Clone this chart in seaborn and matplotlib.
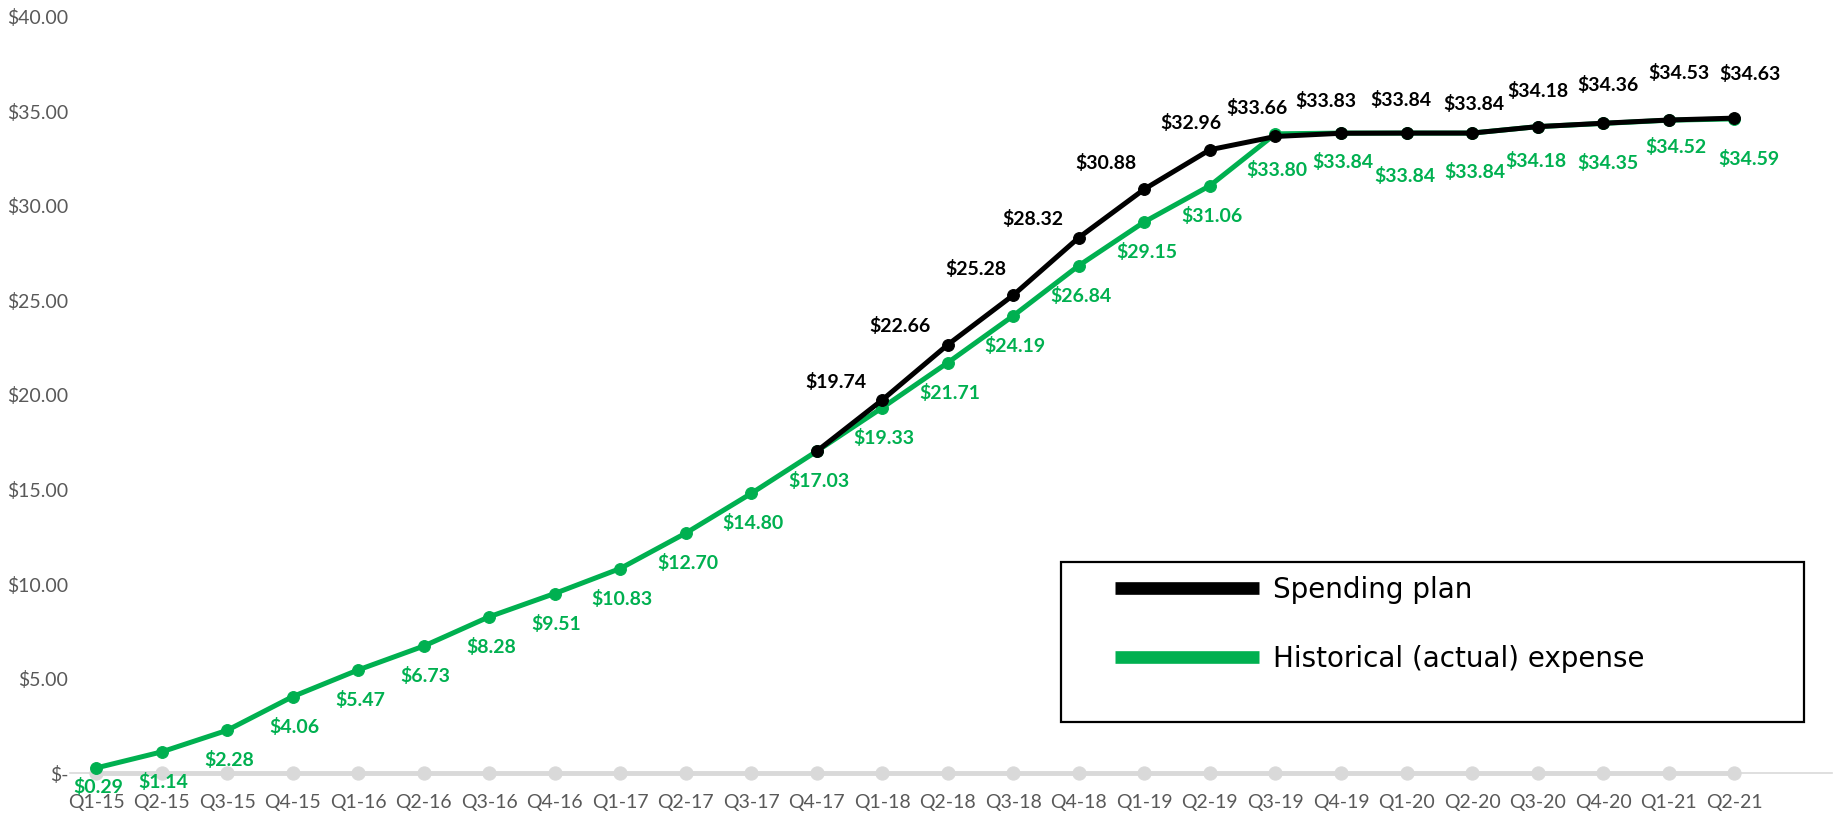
import matplotlib
matplotlib.use("Agg")
import matplotlib.pyplot as plt
import seaborn as sns
import pandas as pd
from matplotlib.lines import Line2D
from matplotlib.patches import Rectangle

quarters = ["Q1-15", "Q2-15", "Q3-15", "Q4-15", "Q1-16", "Q2-16", "Q3-16", "Q4-16",
            "Q1-17", "Q2-17", "Q3-17", "Q4-17", "Q1-18", "Q2-18", "Q3-18", "Q4-18",
            "Q1-19", "Q2-19", "Q3-19", "Q4-19", "Q1-20", "Q2-20", "Q3-20", "Q4-20",
            "Q1-21", "Q2-21"]
actual = [0.29, 1.14, 2.28, 4.06, 5.47, 6.73, 8.28, 9.51, 10.83, 12.70, 14.80, 17.03,
          19.33, 21.71, 24.19, 26.84, 29.15, 31.06, 33.80, 33.84, 33.84, 33.84, 34.18,
          34.35, 34.52, 34.59]
plan_quarters = quarters[11:]
plan = [17.03, 19.74, 22.66, 25.28, 28.32, 30.88, 32.96, 33.66, 33.83, 33.84, 33.84,
        34.18, 34.36, 34.53, 34.63]
baseline = [0.0] * len(quarters)
yticks = [0, 5, 10, 15, 20, 25, 30, 35, 40]
legend_labels = ["Spending plan", "Historical (actual) expense"]

# label placement (pixel offsets, style only)
green_off = [(2, -19)] + [(2, -30)] * 17 + [(1, -36), (2, -29), (-2, -43), (3, -39),
                                           (-2, -34), (5, -40), (7, -27), (15, -40)]
black_off = [None, (-46, 18), (-48, 19), (-38, 26), (-46, 19), (-39, 26), (-19, 27),
             (-18, 28), (-15, 32), (-6, 33), (2, 29), (0, 36), (5, 38), (10, 47), (16, 44)]

GREEN = "#00B050"
GRAY = "#D9D9D9"
TICK = "#595959"

sns.set_theme(style="white")
plt.rcParams['font.family'] = ['Lato', 'DejaVu Sans']

fig = plt.figure(figsize=(18.37, 8.13), dpi=100)
ax = fig.add_axes([0.038, 0.0486, 0.9595, 0.9311])

idx = {q: i for i, q in enumerate(quarters)}
df_base = pd.DataFrame({"x": range(len(quarters)), "y": baseline})
df_act = pd.DataFrame({"x": range(len(quarters)), "y": actual})
df_plan = pd.DataFrame({"x": [idx[q] for q in plan_quarters], "y": plan})

sns.lineplot(data=df_base, x="x", y="y", ax=ax, color=GRAY, linewidth=3.5,
             marker="o", markersize=9.5, markeredgecolor=GRAY, zorder=2, clip_on=False)
sns.lineplot(data=df_act, x="x", y="y", ax=ax, color=GREEN, linewidth=3.6,
             marker="o", markersize=8.5, markeredgecolor=GREEN, zorder=3, clip_on=False)
sns.lineplot(data=df_plan, x="x", y="y", ax=ax, color="black", linewidth=3.6,
             marker="o", markersize=8.5, markeredgecolor="black", zorder=4, clip_on=False)

for i, v in enumerate(actual):
    dx, dy = green_off[i]
    ax.annotate(f"${v:.2f}", (i, v), xytext=(dx, dy), textcoords="offset pixels",
                ha="center", va="center", color=GREEN, fontsize=14,
                fontweight="bold", zorder=5)
for j, v in enumerate(plan):
    if black_off[j] is None:
        continue
    dx, dy = black_off[j]
    ax.annotate(f"${v:.2f}", (idx[plan_quarters[j]], v), xytext=(dx, dy),
                textcoords="offset pixels", ha="center", va="center", color="black",
                fontsize=14, fontweight="bold", zorder=5)

ax.set_xlim(-0.4, 26.5)
ax.set_ylim(0, 40)
ax.set_xticks(range(len(quarters)))
ax.set_xticklabels(quarters)
ax.set_yticks(yticks)
ax.set_yticklabels(["$-" if t == 0 else f"${t:.2f}" for t in yticks])
ax.tick_params(axis="both", colors=TICK, labelsize=14, length=0)
ax.tick_params(axis="x", pad=15)
ax.tick_params(axis="y", pad=1)
ax.set_xlabel("")
ax.set_ylabel("")
for s in ["top", "right", "left"]:
    ax.spines[s].set_visible(False)
ax.spines["bottom"].set_color(GRAY)
ax.spines["bottom"].set_linewidth(1.2)

# legend
ax.add_patch(Rectangle((0.5622, 0.0684), 0.4218, 0.2114, transform=ax.transAxes,
                       fill=False, edgecolor="black", linewidth=1.6, zorder=6,
                       clip_on=False))
handles = [Line2D([0], [0], color="black", linewidth=9.1, solid_capstyle="butt"),
           Line2D([0], [0], color=GREEN, linewidth=9.1, solid_capstyle="butt")]
leg = ax.legend(handles, legend_labels, loc="upper left",
                bbox_to_anchor=(0.593, 0.2613), prop={"family": "DejaVu Sans", "size": 20},
                handlelength=5.2, handletextpad=0.48, labelspacing=1.47,
                borderpad=0, borderaxespad=0, frameon=False)
for t in leg.get_texts():
    t.set_color("black")

fig.savefig("out.png", dpi=100)
